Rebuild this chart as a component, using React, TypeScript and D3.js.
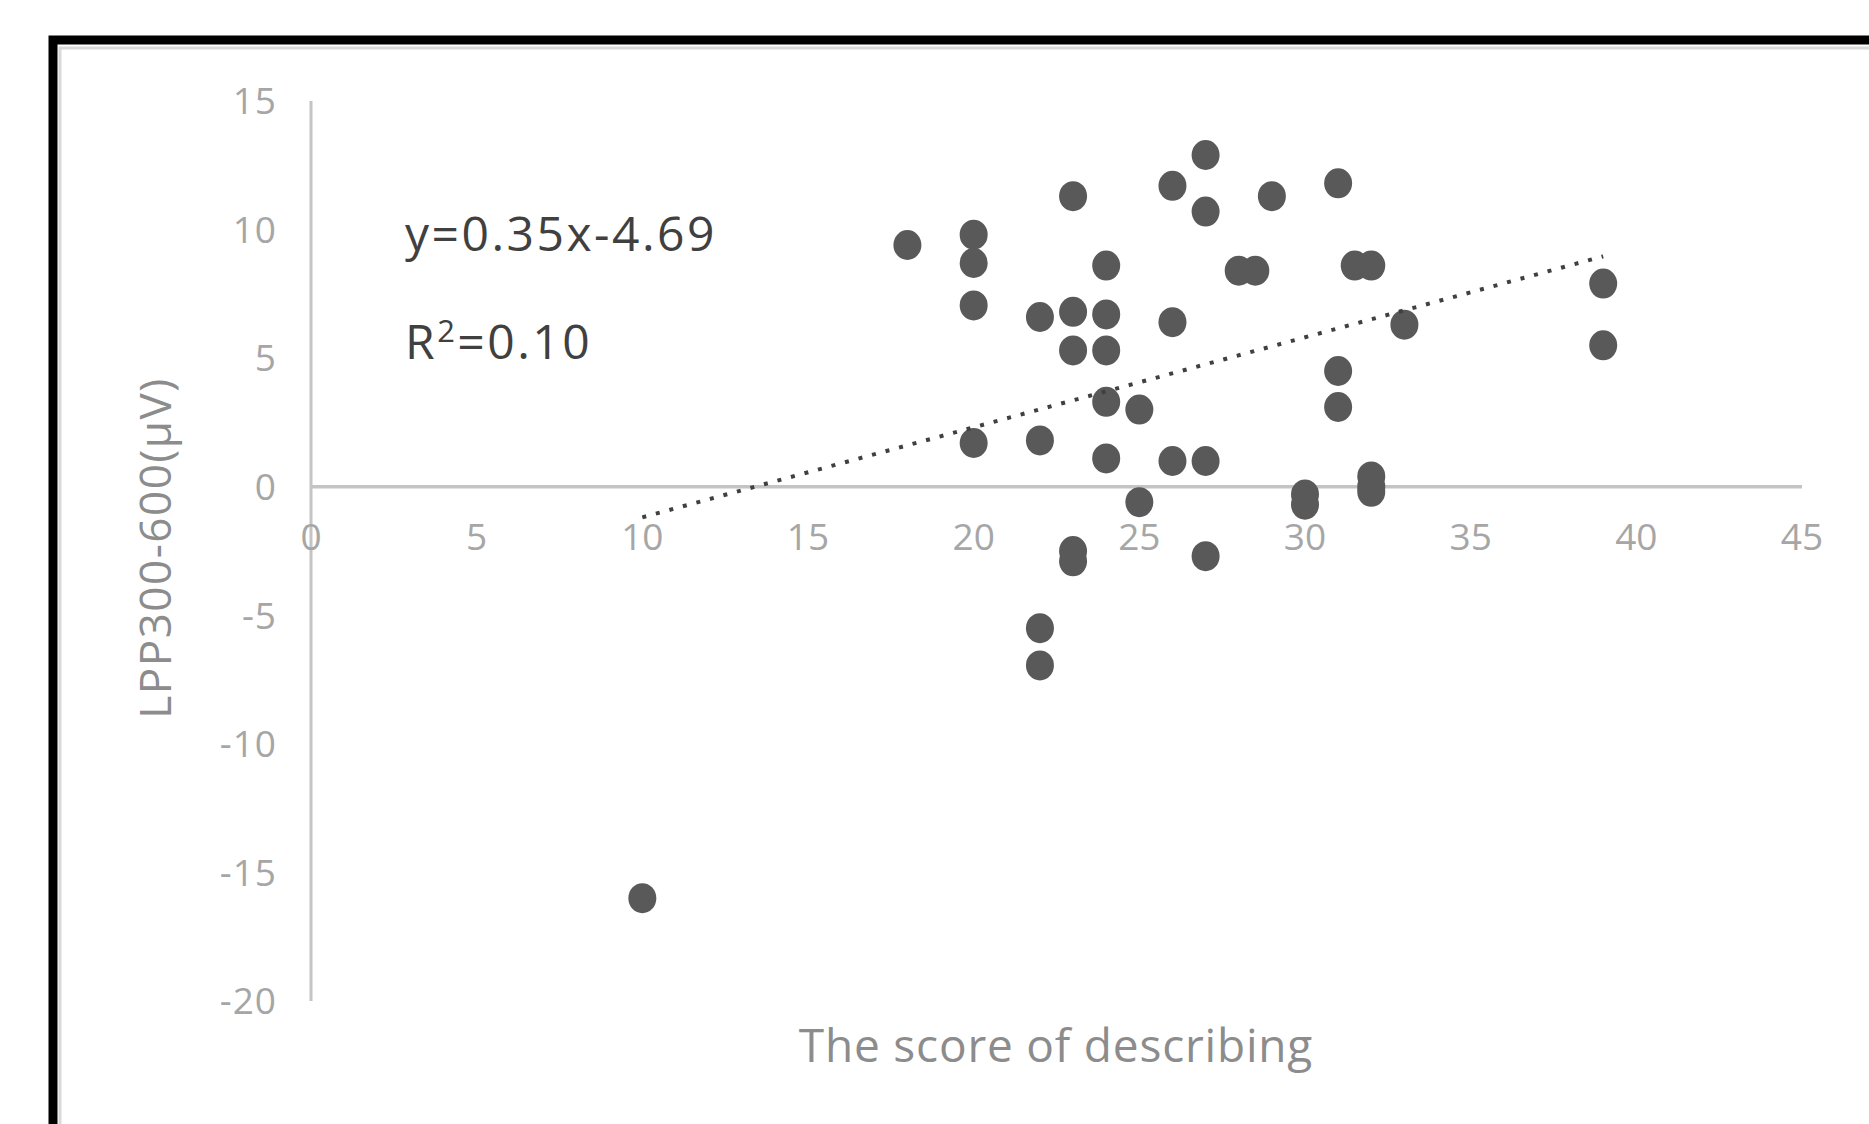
import React from 'react';
import { scaleLinear, line } from 'd3';

// describing score (x) vs LPP300-600 amplitude (y)
const scoreX = [10, 18, 20, 20, 20, 20, 22, 22, 22, 22, 23, 23, 23, 23, 23, 24, 24, 24, 24, 24, 25, 25, 26, 26, 26, 27, 27, 27, 27, 28, 28.5, 29, 30, 30, 31, 31, 31, 31.5, 32, 32, 32, 32, 33, 39, 39];
const lppY = [-16.0, 9.4, 9.8, 8.7, 7.05, 1.7, 6.6, 1.8, -5.5, -6.95, 11.3, 6.8, 5.3, -2.5, -2.9, 8.6, 6.7, 5.3, 3.3, 1.1, 3.0, -0.6, 11.7, 6.4, 1.0, 12.9, 10.7, 1.0, -2.7, 8.4, 8.4, 11.3, -0.3, -0.7, 11.8, 4.5, 3.1, 8.6, 8.6, 0.4, 0.0, -0.2, 6.3, 7.9, 5.5];

const xTicks = [0, 5, 10, 15, 20, 25, 30, 35, 40, 45];
const yTicks = [15, 10, 5, 0, -5, -10, -15, -20];

// regression shown on the chart
const slope = 0.35;
const intercept = -4.69;
const trendRange = [10, 39];

const W = 1869;
const H = 1124;
const font = "'Open Sans', 'Noto Sans', sans-serif";

export default function App() {
  const x = scaleLinear().domain([0, 45]).range([311, 1802]);
  const y = scaleLinear().domain([-20, 15]).range([1001, 101]);

  const trend = line<number>()
    .x((d) => x(d))
    .y((d) => y(slope * d + intercept));

  return (
    <svg width={W} height={H} style={{ position: 'absolute', left: 0, top: 0, background: '#fff' }}>
      <rect x={0} y={0} width={W} height={H} fill="#fff" />
      {/* outer frame */}
      <rect x={60} y={48} width={W} height={H} fill="none" stroke="#d9d9d9" strokeWidth={3} />
      <rect x={53} y={40} width={W} height={H} fill="none" stroke="#000" strokeWidth={9} />

      {/* axes */}
      <line x1={x(0)} x2={x(0)} y1={y(15)} y2={y(-20)} stroke="#c4c4c4" strokeWidth={3} />
      <line x1={x(0)} x2={x(45)} y1={y(0)} y2={y(0)} stroke="#c4c4c4" strokeWidth={3.5} />

      {yTicks.map((t) => (
        <text key={'y' + t} x={277} y={y(t)} dy="0.36em" textAnchor="end" fontFamily={font} fontSize={37} letterSpacing={1} fill="#a6a6a6">
          {t}
        </text>
      ))}
      {xTicks.map((t) => (
        <text key={'x' + t} x={x(t)} y={y(0) + 50} dy="0.36em" textAnchor="middle" fontFamily={font} fontSize={37} fill="#a6a6a6">
          {t}
        </text>
      ))}

      {/* points */}
      {scoreX.map((sx, i) => (
        <ellipse key={i} cx={x(sx)} cy={y(lppY[i])} rx={14} ry={15} fill="#595959" />
      ))}

      {/* trendline */}
      <path d={trend(trendRange) || ''} fill="none" stroke="#404040" strokeWidth={4} strokeDasharray="4 10" />

      {/* equation */}
      <text x={405} y={234} dy="0.36em" fontFamily={font} fontSize={48} letterSpacing={2.5} fill="#404040">
        y=0.35x-4.69
      </text>
      <text x={405} y={342} dy="0.36em" fontFamily={font} fontSize={48} letterSpacing={2.5} fill="#404040">
        R<tspan dy="-17" fontSize={31}>2</tspan>
        <tspan dy="17">=0.10</tspan>
      </text>

      {/* axis titles */}
      <text x={1056} y={1045} dy="0.36em" textAnchor="middle" fontFamily={font} fontSize={46} letterSpacing={0.8} fill="#8c8c8c">
        The score of describing
      </text>
      <text
        transform={`translate(155, 548) rotate(-90)`}
        dy="0.36em"
        textAnchor="middle"
        fontFamily={font}
        fontSize={44}
        letterSpacing={1.5}
        fill="#8c8c8c"
      >
        LPP300-600(μV)
      </text>
    </svg>
  );
}
